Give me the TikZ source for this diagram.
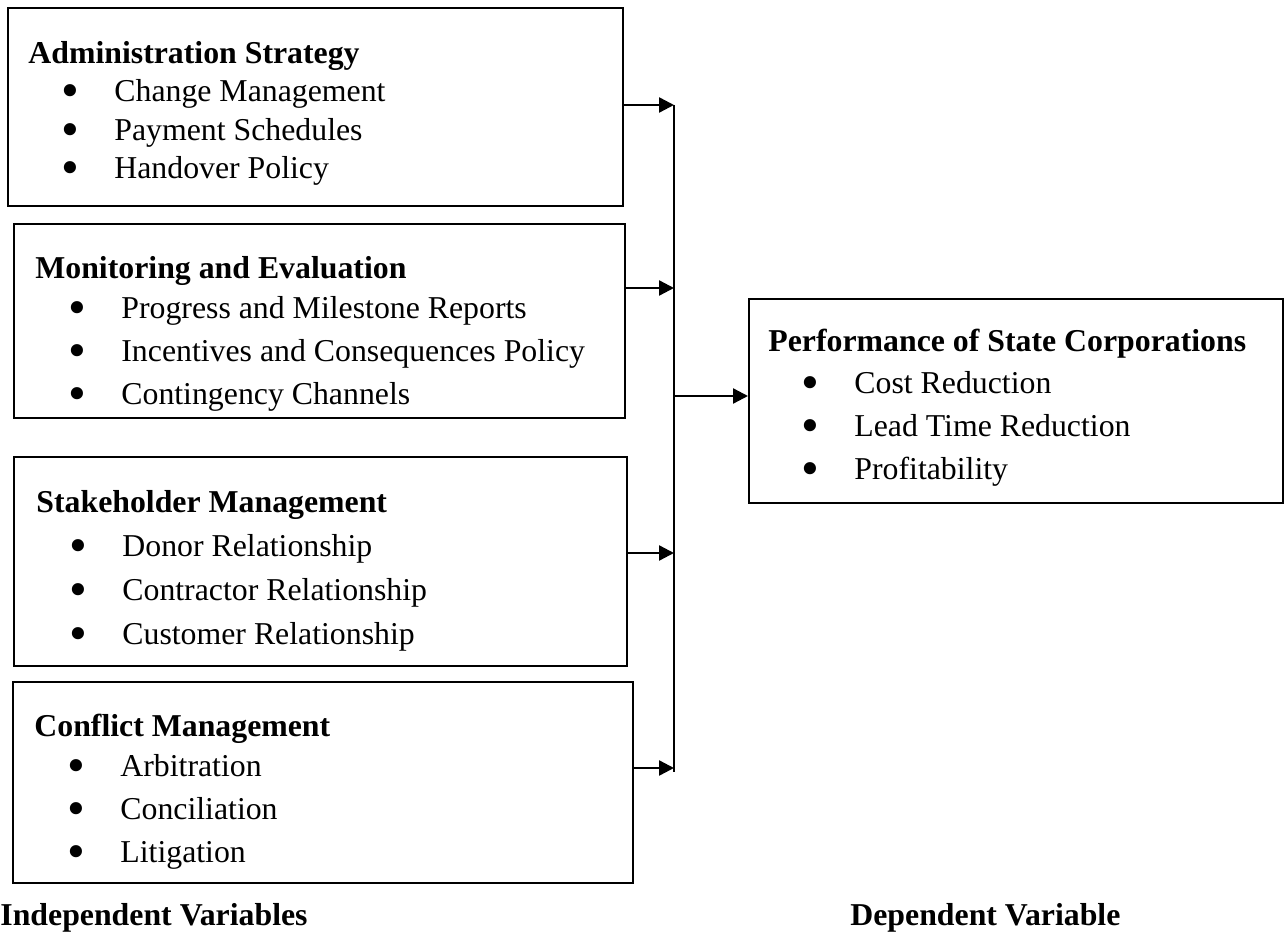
\documentclass[tikz,border=0pt]{standalone}
\usepackage{fontspec}
\setmainfont{Liberation Serif}
\usepackage{tikz}
\usetikzlibrary{arrows.meta}
\tikzstyle{varbox} = [rectangle, draw=black, line width=1.2pt, anchor=north west, inner sep=0pt]
\tikzstyle{varlist} = [rectangle, anchor=north west, inner sep=0pt, align=left, font=\fontsize{15.9pt}{21.5pt}\selectfont]
\tikzstyle{varlabel} = [rectangle, anchor=base west, inner sep=0pt, font=\fontsize{15.9pt}{19pt}\selectfont\bfseries]
\tikzstyle{link} = [line width=1.2pt, -{Triangle[length=7.5pt, width=7.5pt]}]
\newcommand{\bul}{\hspace*{16.5pt}\makebox[26.5pt][l]{\smash{\raisebox{-0.19em}{\scalebox{1.6}{\textbullet}}}}}

\begin{document}
\begin{tikzpicture}[x=0.5pt, y=-0.5pt]
\useasboundingbox (0,0) rectangle (1286,941);
\node (admin) [varbox, minimum width=307.5pt, minimum height=99pt] at (7,7) {};
\node (monit) [varbox, minimum width=305.5pt, minimum height=97pt] at (13,223) {};
\node (stake) [varbox, minimum width=306.5pt, minimum height=104.5pt] at (13,456) {};
\node (confl) [varbox, minimum width=310pt, minimum height=100.5pt] at (12,681) {};
\node (perf) [varbox, minimum width=267pt, minimum height=102pt] at (748,298) {};
\node (admintxt) [varlist, font=\fontsize{15.9pt}{19.2pt}\selectfont] at (28,41) {\textbf{Administration Strategy}\\ \bul Change Management\\ \bul Payment Schedules\\ \bul Handover Policy};
\node (monittxt) [varlist] at (35,256) {\textbf{Monitoring and Evaluation}\\[-1.5pt] \bul Progress and Milestone Reports\\ \bul Incentives and Consequences Policy\\ \bul Contingency Channels};
\node (staketxt) [varlist, font=\fontsize{15.9pt}{22pt}\selectfont] at (36,490) {\textbf{Stakeholder Management}\\ \bul Donor Relationship\\ \bul Contractor Relationship\\ \bul Customer Relationship};
\node (confltxt) [varlist] at (34,714) {\textbf{Conflict Management}\\[-1.5pt] \bul Arbitration\\ \bul Conciliation\\ \bul Litigation};
\node (perftxt) [varlist] at (768,329) {\textbf{Performance of State Corporations}\\[-0.5pt] \bul Cost Reduction\\ \bul Lead Time Reduction\\ \bul Profitability};
\node (indep) [varlabel] at (0,925) {Independent Variables};
\node (dep) [varlabel] at (850,925) {Dependent Variable};
\coordinate (bus1) at (674,105);
\coordinate (bus2) at (674,288);
\coordinate (bus3) at (674,553);
\coordinate (bus4) at (674,768);
\coordinate (busend) at (674,772);
\coordinate (busout) at (674,396);
\draw [line width=1.2pt] (bus1) -- (busend);
\draw [link] (admin.east |- bus1) -- (bus1);
\draw [link] (monit.east |- bus2) -- (bus2);
\draw [link] (stake.east |- bus3) -- (bus3);
\draw [link] (confl.east |- bus4) -- (bus4);
\draw [link] (busout) -- (perf.west |- busout);
\end{tikzpicture}
\end{document}
